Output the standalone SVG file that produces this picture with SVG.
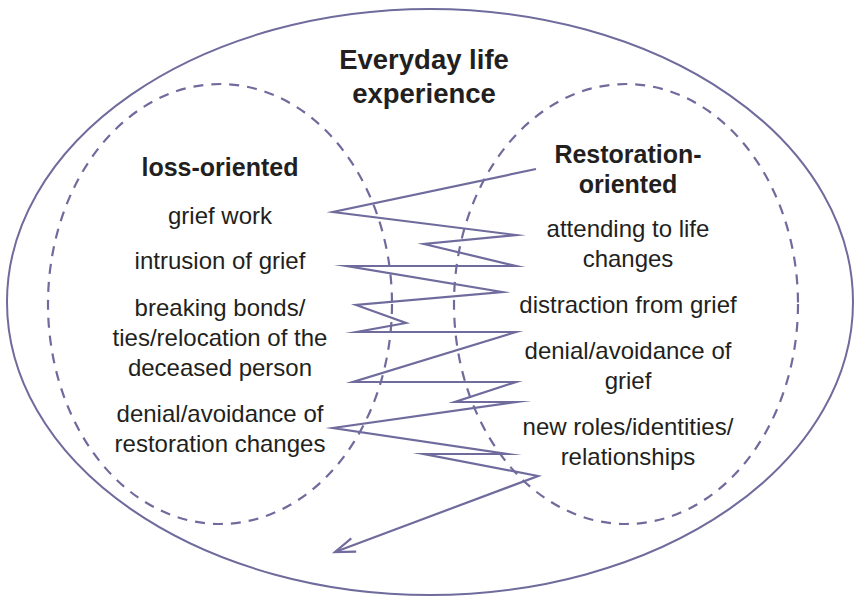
<svg xmlns="http://www.w3.org/2000/svg" width="855" height="600" viewBox="0 0 855 600">
  <style>
    .outer { fill: none; stroke: #6f6b9c; stroke-width: 2; }
    .dash { fill: none; stroke: #6f6b9c; stroke-width: 2.2; stroke-dasharray: 10 8; }
    .zig { fill: none; stroke: #6f6b9c; stroke-width: 2.2; stroke-linejoin: miter; stroke-miterlimit: 20; }
    .t { font-family: "Liberation Sans", Arial, sans-serif; font-size: 24px; fill: #231f20; text-anchor: middle; }
    .h { font-family: "Liberation Sans", Arial, sans-serif; font-size: 25px; font-weight: bold; fill: #231f20; text-anchor: middle; }
    .title { font-family: "Liberation Sans", Arial, sans-serif; font-size: 27.5px; font-weight: bold; fill: #231f20; text-anchor: middle; }
  </style>
  <defs>
    <marker id="arrow" markerUnits="userSpaceOnUse" markerWidth="30" markerHeight="30" refX="0" refY="0" orient="auto" overflow="visible">
      <path d="M-20,-7 L0,0 L-20,7" fill="none" stroke="#6f6b9c" stroke-width="2.2"/>
    </marker>
  </defs>
  <rect width="855" height="600" fill="#ffffff"/>

  <g id="everyday-life">
    <ellipse class="outer" cx="430" cy="302" rx="423" ry="293"/>
    <text class="title" x="424" y="69">Everyday life</text>
    <text class="title" x="424" y="103">experience</text>
  </g>

  <g id="loss-oriented">
    <ellipse class="dash" cx="220" cy="304" rx="172" ry="220"/>
    <text class="h" x="220" y="176">loss-oriented</text>
    <text class="t" x="220" y="224">grief work</text>
    <text class="t" x="220" y="269">intrusion of grief</text>
    <text class="t" x="220" y="316">breaking bonds/</text>
    <text class="t" x="220" y="346">ties/relocation of the</text>
    <text class="t" x="220" y="376">deceased person</text>
    <text class="t" x="220" y="422">denial/avoidance of</text>
    <text class="t" x="220" y="452">restoration changes</text>
  </g>

  <g id="restoration-oriented">
    <ellipse class="dash" cx="626" cy="304" rx="172" ry="220"/>
    <text class="h" x="628" y="163">Restoration-</text>
    <text class="h" x="628" y="193">oriented</text>
    <text class="t" x="628" y="237">attending to life</text>
    <text class="t" x="628" y="267">changes</text>
    <text class="t" x="628" y="313">distraction from grief</text>
    <text class="t" x="628" y="359">denial/avoidance of</text>
    <text class="t" x="628" y="389">grief</text>
    <text class="t" x="628" y="435">new roles/identities/</text>
    <text class="t" x="628" y="465">relationships</text>
  </g>

  <g id="connectors">
    <polyline class="zig" marker-end="url(#arrow)" points="536,169 333,212 516,235 424,244 516,266 347,266 502,292 356,305 406,323 357,332 516,332 353,382 516,382 455,402 516,402 333,428 507,454 424,454 538,476 335,552"/>
  </g>
</svg>
